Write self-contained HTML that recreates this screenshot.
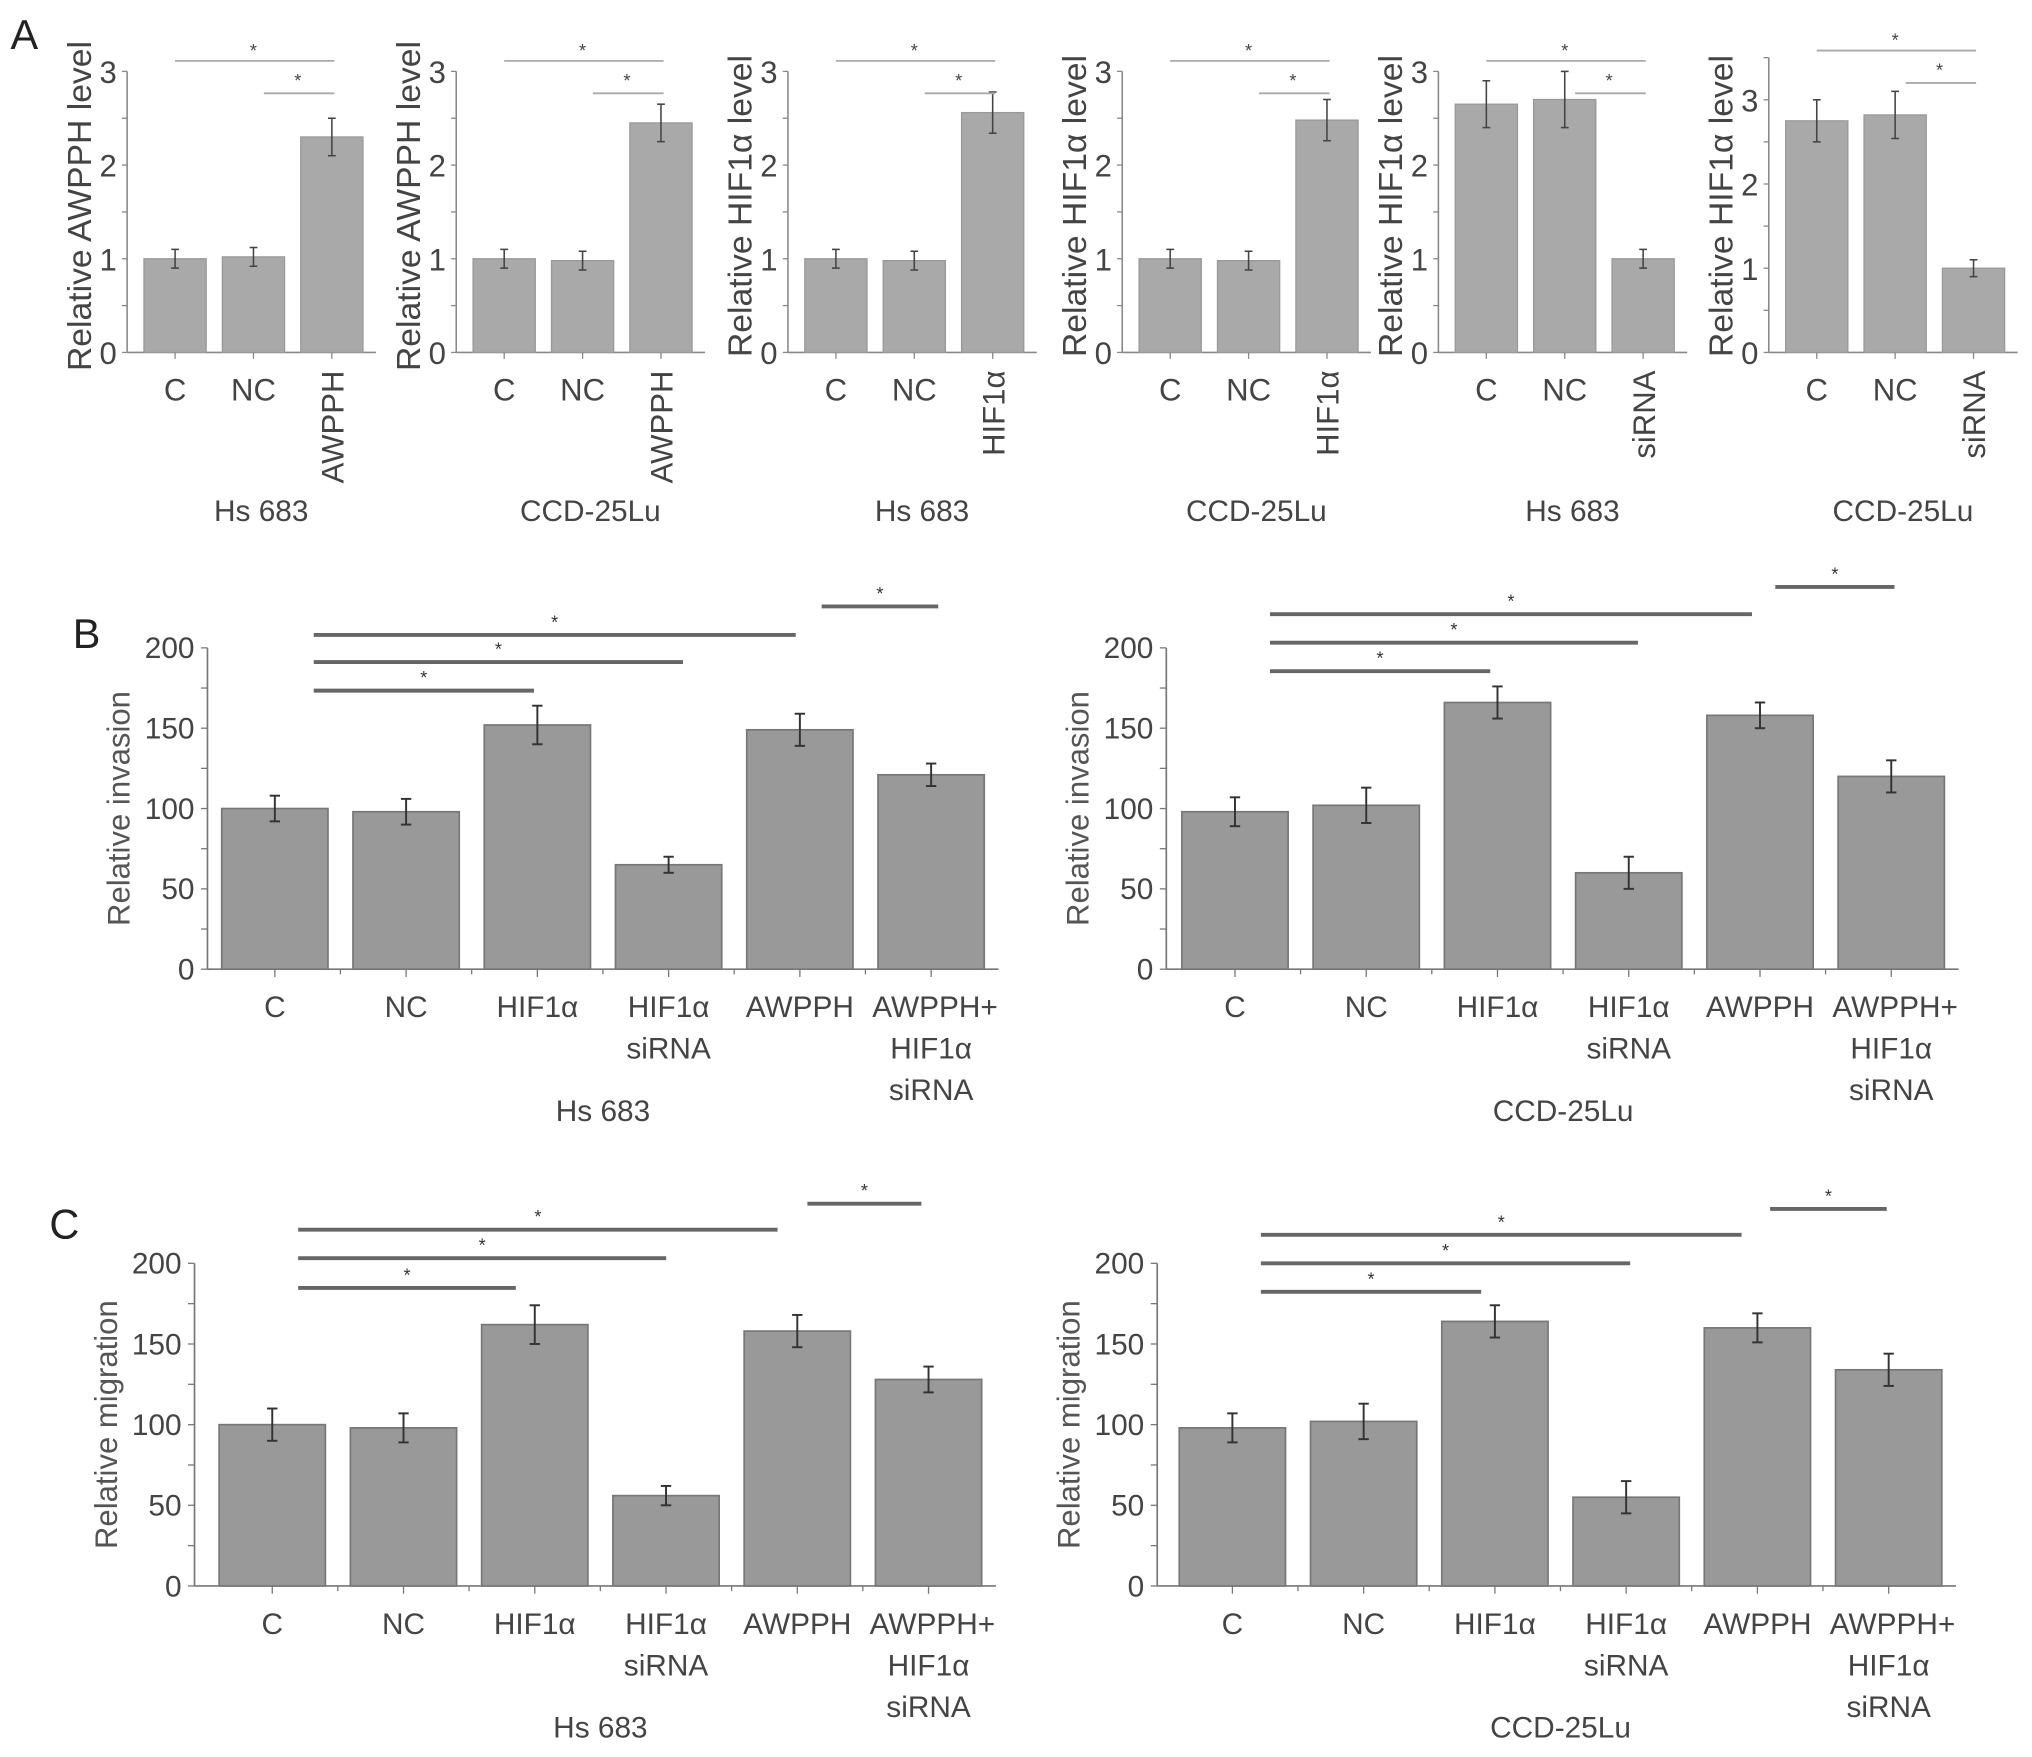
<!DOCTYPE html>
<html><head><meta charset="utf-8">
<style>
html,body{margin:0;padding:0;background:#fff;}
svg{display:block;font-family:"Liberation Sans",sans-serif;}
</style></head>
<body>
<svg id="fig" width="2032" height="1757" viewBox="0 0 1568 1356" xmlns="http://www.w3.org/2000/svg">
<text x="8" y="38" font-size="32" fill="#222">A</text>
<text x="56" y="500" font-size="32" fill="#222">B</text>
<text x="38" y="956" font-size="32" fill="#222">C</text>
</svg>
<script>
// ---- Panel A data ----
const aCats = [["C","NC","AWPPH"],["C","NC","AWPPH"],["C","NC","HIF1α"],["C","NC","HIF1α"],["C","NC","siRNA"],["C","NC","siRNA"]];
const aValues = [[1.0,1.02,2.3],[1.0,0.98,2.45],[1.0,0.98,2.56],[1.0,0.98,2.48],[2.65,2.7,1.0],[2.75,2.82,1.0]];
const aErrors = [[0.1,0.1,0.2],[0.1,0.1,0.2],[0.1,0.1,0.22],[0.1,0.1,0.22],[0.25,0.3,0.1],[0.25,0.28,0.1]];
const aYTitles = ["Relative AWPPH level","Relative AWPPH level","Relative HIF1α level","Relative HIF1α level","Relative HIF1α level","Relative HIF1α level"];
const aGroups = ["Hs 683","CCD-25Lu","Hs 683","CCD-25Lu","Hs 683","CCD-25Lu"];
const aYTicks = [0,1,2,3];
const aYMax = [3,3,3,3,3,3.5];
// ---- Panels B/C data ----
const bcCats = [["C"],["NC"],["HIF1α"],["HIF1α","siRNA"],["AWPPH"],["AWPPH+","HIF1α","siRNA"]];
const bLeftValues = [100,98,152,65,149,121];
const bLeftErrors = [8,8,12,5,10,7];
const bRightValues = [98,102,166,60,158,120];
const bRightErrors = [9,11,10,10,8,10];
const cLeftValues = [100,98,162,56,158,128];
const cLeftErrors = [10,9,12,6,10,8];
const cRightValues = [98,102,164,55,160,134];
const cRightErrors = [9,11,10,10,9,10];
const bcYTicks = [0,50,100,150,200];

const NS="http://www.w3.org/2000/svg";
const svg=document.getElementById('fig');
function mk(tag,attrs,parent,text){const e=document.createElementNS(NS,tag);for(const k in attrs)e.setAttribute(k,attrs[k]);if(text!==undefined)e.textContent=text;(parent||svg).appendChild(e);return e;}

// Panel A
const aAxisX=[98,352,608,866,1110,1365];
aValues.forEach((vals,ci)=>{
  const g=mk('g',{});
  
  
  const ax=aAxisX[ci], y0=272, unit=(ci===5)?65:72.3;
  const ymax=aYMax[ci];
  const yS=v=>y0-v*unit;
  const xS=i=>ax+37+i*60.5;
  const bw=48;
  mk('line',{x1:ax,y1:y0,x2:ax,y2:yS(ymax),stroke:'#888','stroke-width':1.2},g);
  mk('line',{x1:ax,y1:y0,x2:ax+192,y2:y0,stroke:'#888','stroke-width':1.2},g);
  for(let t=0;t<=ymax+0.001;t+=0.5){mk('line',{x1:ax-4,y1:yS(t),x2:ax,y2:yS(t),stroke:'#888','stroke-width':1},g);}
  aYTicks.forEach(t=>{const tl=mk('text',{x:ax-8,y:yS(t)+9,'font-size':24,fill:'#444','text-anchor':'end'},g,String(t));
    });
  const yt=mk('text',{x:0,y:0,'font-size':26,fill:'#444','text-anchor':'middle',transform:`translate(${ax-28},${y0-113}) rotate(-90)`},g,aYTitles[ci]);
  
  vals.forEach((v,i)=>{
    const r=mk('rect',{x:xS(i)-bw/2,y:yS(v),width:bw,height:y0-yS(v),fill:'#a9a9a9',stroke:'#999','stroke-width':1},g);
    
    const e=aErrors[ci][i];
    mk('line',{x1:xS(i),y1:yS(v+e),x2:xS(i),y2:yS(v-e),stroke:'#444','stroke-width':1.2},g);
    mk('line',{x1:xS(i)-3,y1:yS(v+e),x2:xS(i)+3,y2:yS(v+e),stroke:'#444','stroke-width':1.2},g);
    mk('line',{x1:xS(i)-3,y1:yS(v-e),x2:xS(i)+3,y2:yS(v-e),stroke:'#444','stroke-width':1.2},g);
    mk('line',{x1:xS(i),y1:y0,x2:xS(i),y2:y0+5,stroke:'#888','stroke-width':1},g);
    let lab;
    if(i<2) lab=mk('text',{x:xS(i),y:y0+37,'font-size':24,fill:'#444','text-anchor':'middle'},g,aCats[ci][i]);
    else lab=mk('text',{x:0,y:0,'font-size':24,fill:'#444','text-anchor':'end',transform:`translate(${xS(i)+9},${y0+14}) rotate(-90)`},g,aCats[ci][i]);
    
  });
  const gl=mk('text',{x:xS(1)+6,y:y0+130,'font-size':23,fill:'#444','text-anchor':'middle'},g,aGroups[ci]);
  
  // significance
  const s1=yS(0)-225, s2=s1+25;
  mk('line',{x1:xS(0),y1:s1+(ci===5?-8:0),x2:xS(2)+2,y2:s1+(ci===5?-8:0),stroke:'#aaa','stroke-width':1.4},g);
  mk('text',{x:(xS(0)+xS(2))/2,y:s1-3+(ci===5?-8:0),'font-size':14,fill:'#444','text-anchor':'middle'},g,'*');
  mk('line',{x1:xS(1)+8,y1:s2+(ci===5?-8:0),x2:xS(2)+2,y2:s2+(ci===5?-8:0),stroke:'#aaa','stroke-width':1.4},g);
  mk('text',{x:(xS(1)+8+xS(2))/2,y:s2-5+(ci===5?-8:0),'font-size':14,fill:'#444','text-anchor':'middle'},g,'*');
});

// Panels B/C
function bcChart(name,ax,y0,y200,x0,vals,errs,yTitle,group,sig){
  const g=mk('g',{});
  
  
  const yS=v=>y0-(v/200)*(y0-y200);
  const xS=i=>x0+i*101.3;
  const bw=82;
  mk('line',{x1:ax,y1:y0,x2:ax,y2:y200,stroke:'#777','stroke-width':1.3},g);
  mk('line',{x1:ax,y1:y0,x2:xS(5)+52,y2:y0,stroke:'#777','stroke-width':1.3},g);
  for(let t=0;t<=200;t+=25){mk('line',{x1:ax-5,y1:yS(t),x2:ax,y2:yS(t),stroke:'#777','stroke-width':1},g);}
  bcYTicks.forEach(t=>{const tl=mk('text',{x:ax-10,y:yS(t)+8,'font-size':23,fill:'#444','text-anchor':'end'},g,String(t));
    });
  const yt=mk('text',{x:0,y:0,'font-size':24,fill:'#555','text-anchor':'middle',transform:`translate(${ax-60},${yS(100)}) rotate(-90)`},g,yTitle);
  
  vals.forEach((v,i)=>{
    const r=mk('rect',{x:xS(i)-bw/2,y:yS(v),width:bw,height:y0-yS(v),fill:'#999',stroke:'#777','stroke-width':1.3},g);
    
    const e=errs[i];
    mk('line',{x1:xS(i),y1:yS(v+e),x2:xS(i),y2:yS(v-e),stroke:'#333','stroke-width':1.5},g);
    mk('line',{x1:xS(i)-4,y1:yS(v+e),x2:xS(i)+4,y2:yS(v+e),stroke:'#333','stroke-width':1.5},g);
    mk('line',{x1:xS(i)-4,y1:yS(v-e),x2:xS(i)+4,y2:yS(v-e),stroke:'#333','stroke-width':1.5},g);
    mk('line',{x1:xS(i),y1:y0,x2:xS(i),y2:y0+6,stroke:'#777','stroke-width':1},g);
    if(i<5) mk('line',{x1:xS(i)+50.6,y1:y0,x2:xS(i)+50.6,y2:y0+4,stroke:'#777','stroke-width':1},g);
    bcCats[i].forEach((s,k)=>{
      const lab=mk('text',{x:xS(i)+(i===5&&k===0?3:0),y:y0+37+k*32,'font-size':23,fill:'#444','text-anchor':'middle'},g,s);
      
    });
  });
  const gl=mk('text',{x:(xS(2)+xS(3))/2,y:y0+117,'font-size':23,fill:'#444','text-anchor':'middle'},g,group);
  
  sig.forEach(s=>{
    const l=mk('line',{x1:s[0],y1:s[2],x2:s[1],y2:s[2],stroke:'#666','stroke-width':3},g);
    
    mk('text',{x:(s[0]+s[1])/2,y:s[2]-5,'font-size':14,fill:'#333','text-anchor':'middle'},g,'*');
  });
}
bcChart('panel-b-hs683',160,748,500,212,bLeftValues,bLeftErrors,'Relative invasion','Hs 683',
  [[242,412,533],[242,527,511],[242,614,490],[634,724,468]]);
bcChart('panel-b-ccd25lu',900,748,500,953,bRightValues,bRightErrors,'Relative invasion','CCD-25Lu',
  [[980,1150,518],[980,1264,496],[980,1352,474],[1370,1462,453]]);
bcChart('panel-c-hs683',150,1224,975,210,cLeftValues,cLeftErrors,'Relative migration','Hs 683',
  [[230,398,994],[230,514,971],[230,600,949],[623,711,929]]);
bcChart('panel-c-ccd25lu',893,1224,975,951,cRightValues,cRightErrors,'Relative migration','CCD-25Lu',
  [[973,1143,997],[973,1258,975],[973,1344,953],[1366,1456,933]]);
</script>
</body></html>
